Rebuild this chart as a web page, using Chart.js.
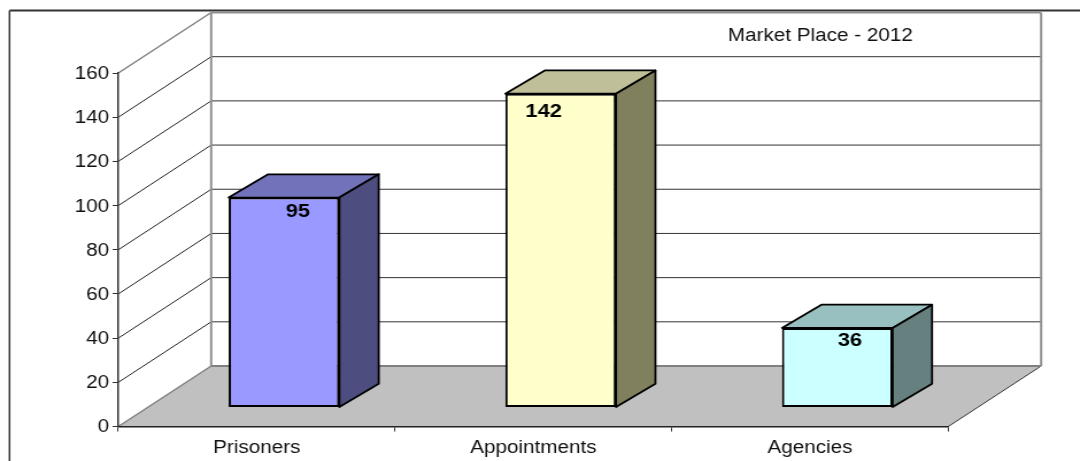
<!DOCTYPE html>
<html>
<head>
<meta charset="utf-8">
<script src="https://cdn.jsdelivr.net/npm/chart.js"></script>
<style>
    html, body { margin: 0; padding: 0; background: #fff; overflow: hidden; }
    /* the reference is a picture stretched sideways, so the canvas is too */
    #chart { display: block; transform-origin: 0 0; transform: scaleX(1.1489); }
</style>
</head>
<body>
<canvas id="chart" width="940" height="461"></canvas>
<script>
// Chart data
const categories = ['Prisoners', 'Appointments', 'Agencies'];
const seriesValues = [95, 142, 36];
const chartNote = 'Market Place - 2012';
const yMax = 160;
const yStep = 20;

// Bar face colours
const frontColors = ['#9999ff', '#ffffcc', '#ccffff'];
const topColors = ['#7272ba', '#bfbf99', '#99c0c0'];
const sideColors = ['#4d4d7f', '#80805f', '#668080'];

// 3D look, in canvas pixels
const wallDepth = { x: 80.8, y: -60.5 };
const barOffset = { x: 23.8, y: -19 };
const barDepth = { x: 34.3, y: -23.3 };
const labelShiftX = [12, -14.8, 10.9];
const labelDropY = [14.5, 18, 13];
const textFont = 'Liberation Sans';

function poly(ctx, pts, fill, stroke, lineWidth) {
    ctx.beginPath();
    pts.forEach((p, i) => i ? ctx.lineTo(p[0], p[1]) : ctx.moveTo(p[0], p[1]));
    ctx.closePath();
    if (fill) {
        ctx.fillStyle = fill;
        ctx.fill();
    }
    if (stroke) {
        ctx.strokeStyle = stroke;
        ctx.lineWidth = lineWidth;
        ctx.stroke();
    }
}

function line(ctx, x1, y1, x2, y2, color, width) {
    ctx.beginPath();
    ctx.moveTo(x1, y1);
    ctx.lineTo(x2, y2);
    ctx.strokeStyle = color;
    ctx.lineWidth = width;
    ctx.stroke();
}

// Outer frame, floor, back wall and the bent grid lines
const wallPlugin = {
    id: 'wall',
    beforeDraw(chart) {
        const { ctx, chartArea, scales } = chart;
        const { left, right, bottom } = chartArea;
        const dx = wallDepth.x, dy = wallDepth.y;
        ctx.save();

        line(ctx, 8.3, 10.5, 8.3, 461, '#333333', 1.5);
        line(ctx, 8.3, 10.5, 940, 10.5, '#333333', 2);

        poly(ctx, [[left, bottom], [right, bottom], [right + dx, bottom + dy], [left + dx, bottom + dy]], '#c0c0c0');
        line(ctx, right, bottom, right + dx, bottom + dy, '#333333', 1);
        line(ctx, left, bottom, left + dx, bottom + dy, '#808080', 1.5);

        scales.y.ticks.forEach(tick => {
            if (tick.value === 0) return;
            const y = scales.y.getPixelForValue(tick.value);
            const top = tick.value === yMax;
            line(ctx, left, y, left + dx, y + dy, top ? '#808080' : '#222222', top ? 1.5 : 1);
            line(ctx, left + dx, y + dy, right + dx, y + dy, top ? '#909090' : '#333333', top ? 2 : 1);
        });

        const wallTop = scales.y.getPixelForValue(yMax) + dy;
        line(ctx, left + dx, wallTop, left + dx, bottom + dy, '#909090', 2);
        line(ctx, right + dx, wallTop, right + dx, bottom + dy, '#909090', 2);
        line(ctx, left + dx, bottom + dy, right + dx, bottom + dy, '#808080', 2);

        ctx.fillStyle = '#111111';
        ctx.font = '18px "' + textFont + '"';
        ctx.textAlign = 'center';
        ctx.textBaseline = 'middle';
        ctx.fillText(chartNote, 714, 36);
        ctx.restore();
    }
};

// Moves the bars back onto the floor and gives them a top and a side
const boxPlugin = {
    id: 'box',
    beforeDatasetDraw(chart, args) {
        const { ctx } = chart;
        const dx = barDepth.x, dy = barDepth.y;
        ctx.save();
        ctx.translate(barOffset.x, barOffset.y);
        args.meta.data.forEach((bar, i) => {
            const l = bar.x - bar.width / 2, r = bar.x + bar.width / 2;
            ctx.lineJoin = 'round';
            poly(ctx, [[l, bar.y], [r, bar.y], [r + dx, bar.y + dy], [l + dx, bar.y + dy]], topColors[i], '#000000', 1.8);
            poly(ctx, [[r, bar.y], [r + dx, bar.y + dy], [r + dx, bar.base + dy], [r, bar.base]], sideColors[i], '#000000', 1.8);
        });
    },
    afterDatasetDraw(chart) {
        chart.ctx.restore();
    },
    afterDatasetsDraw(chart) {
        const { ctx } = chart;
        ctx.save();
        ctx.fillStyle = '#000000';
        ctx.font = 'bold 19px "' + textFont + '"';
        ctx.textAlign = 'center';
        ctx.textBaseline = 'middle';
        chart.getDatasetMeta(0).data.forEach((bar, i) => {
            ctx.fillText(String(seriesValues[i]), bar.x + barOffset.x + labelShiftX[i], bar.y + barOffset.y + labelDropY[i]);
        });
        ctx.restore();
    }
};

new Chart(document.getElementById('chart'), {
    type: 'bar',
    data: {
        labels: categories,
        datasets: [{
            data: seriesValues,
            backgroundColor: frontColors,
            borderColor: '#000000',
            borderWidth: 2,
            borderSkipped: false,
            barPercentage: 0.4,
            categoryPercentage: 1,
            clip: false
        }]
    },
    options: {
        responsive: false,
        animation: false,
        layout: { padding: { left: 0, right: 114.6, top: 73, bottom: 0 } },
        plugins: {
            legend: { display: false },
            title: { display: false },
            tooltip: { enabled: false }
        },
        scales: {
            x: {
                afterFit: scale => { scale.height = 34.5; },
                grid: { drawOnChartArea: false, color: '#333333', tickLength: 5 },
                border: { color: '#222222', width: 1.5 },
                ticks: { color: '#111111', padding: 6, maxRotation: 0, font: { family: textFont, size: 18 } }
            },
            y: {
                min: 0,
                max: yMax,
                afterFit: scale => { scale.width = 103; },
                grid: { drawOnChartArea: false, color: '#333333', tickLength: 5 },
                border: { color: '#333333', width: 1.5 },
                ticks: { stepSize: yStep, color: '#111111', padding: 3, labelOffset: 1, font: { family: textFont, size: 18 } }
            }
        }
    },
    plugins: [wallPlugin, boxPlugin]
});
</script>
</body>
</html>
